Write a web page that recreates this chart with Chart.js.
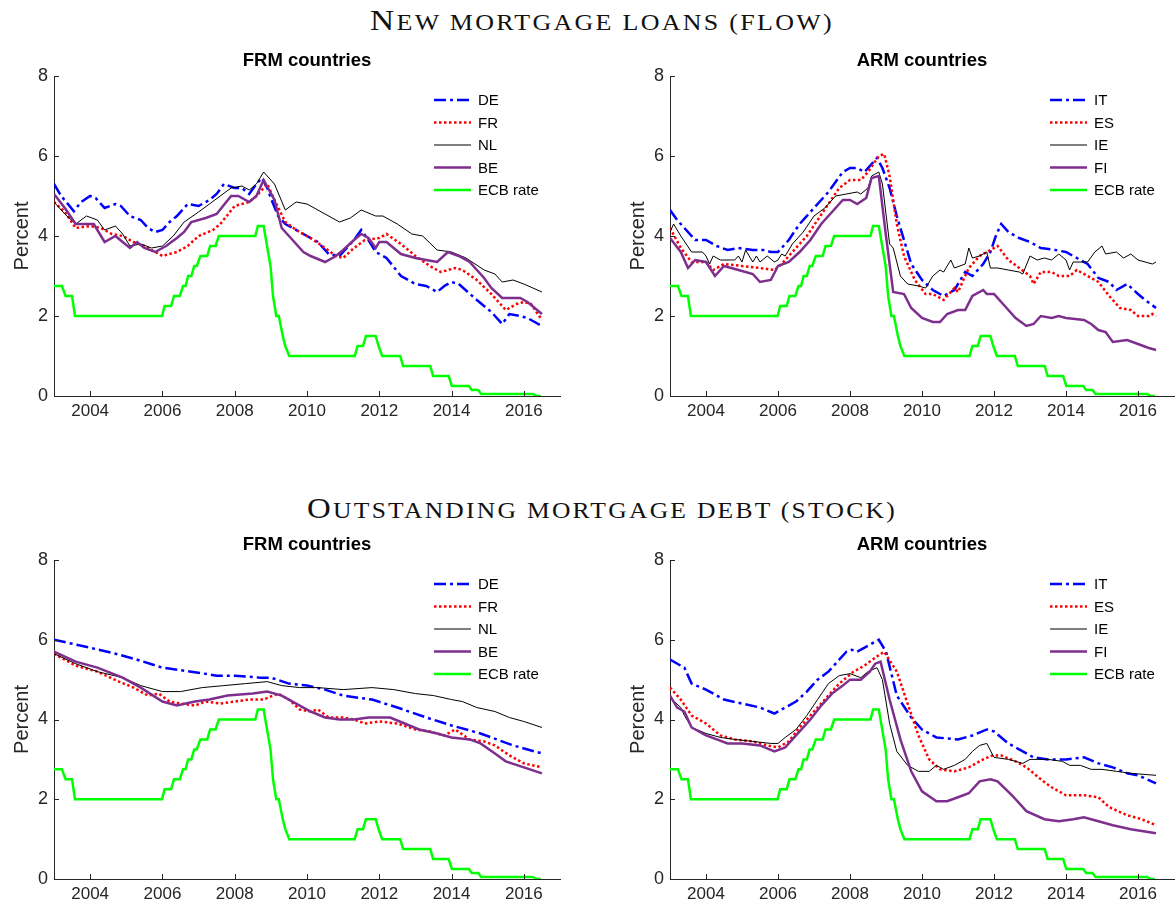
<!DOCTYPE html>
<html>
<head>
<meta charset="utf-8">
<script src="https://cdn.jsdelivr.net/npm/chart.js@4.4.1/dist/chart.umd.min.js"></script>
<style>
  body { margin: 0; background: #fff; width: 1176px; height: 913px; position: relative; overflow: hidden; }
  .sec { position: absolute; left: 602px; white-space: nowrap; font-family: "Liberation Serif", serif;
         font-size: 29px; line-height: 36px; color: #111; letter-spacing: 2px; transform-origin: 0 0; }
  .sec .sc { font-size: 22.5px; }
  canvas { position: absolute; }
</style>
</head>
<body>
<div class="sec" id="t1" style="top:2px">N<span class="sc">EW MORTGAGE LOANS (FLOW)</span></div>
<div class="sec" id="t2" style="top:490px">O<span class="sc">UTSTANDING MORTGAGE DEBT (STOCK)</span></div>
<canvas id="c1" width="575" height="385" style="left:0;top:45px"></canvas>
<canvas id="c2" width="588" height="385" style="left:588px;top:45px"></canvas>
<canvas id="c3" width="575" height="384" style="left:0;top:529px"></canvas>
<canvas id="c4" width="588" height="384" style="left:588px;top:529px"></canvas>
<script>
const tickYears = [2004, 2006, 2008, 2010, 2012, 2014, 2016];
const tickPercent = [0, 2, 4, 6, 8];
const frmNames = ['DE', 'FR', 'NL', 'BE', 'ECB rate'];
const armNames = ['IT', 'ES', 'IE', 'FI', 'ECB rate'];

// ECB main refinancing rate, [year, percent]
const ecbRate = [[2003.0,2.75],[2003.22,2.75],[2003.32,2.5],[2003.5,2.5],[2003.58,2.0],[2005.99,2.0],[2006.06,2.25],[2006.24,2.25],
  [2006.32,2.5],[2006.48,2.5],[2006.57,2.75],[2006.64,2.75],[2006.71,3.0],[2006.8,3.0],[2006.88,3.25],[2006.95,3.25],[2007.05,3.5],
  [2007.24,3.5],[2007.32,3.75],[2007.47,3.75],[2007.56,4.0],[2008.57,4.0],[2008.64,4.25],[2008.8,4.25],[2008.99,3.25],[2009.06,2.5],
  [2009.15,2.0],[2009.22,2.0],[2009.33,1.5],[2009.4,1.25],[2009.51,1.0],[2011.32,1.0],[2011.4,1.25],[2011.55,1.25],[2011.63,1.5],
  [2011.9,1.5],[2011.98,1.25],[2012.08,1.0],[2012.58,1.0],[2012.66,0.75],[2013.41,0.75],[2013.49,0.5],[2013.92,0.5],[2014.01,0.25],
  [2014.48,0.25],[2014.56,0.15],[2014.74,0.15],[2014.82,0.05],[2016.25,0.05],[2016.36,0.0],[2016.47,0.0]];

// New loans, FRM countries
const flowDE = [[2003.0,5.3],[2003.2,5.0],[2003.55,4.62],[2003.75,4.85],[2004.0,5.0],[2004.15,4.95],[2004.4,4.7],[2004.7,4.8],
  [2004.85,4.75],[2005.1,4.5],[2005.4,4.4],[2005.6,4.2],[2005.8,4.1],[2006.0,4.15],[2006.2,4.35],[2006.4,4.5],[2006.7,4.8],
  [2007.0,4.75],[2007.3,4.9],[2007.5,5.05],[2007.7,5.3],[2008.0,5.2],[2008.2,5.2],[2008.4,5.05],[2008.6,5.3],[2008.75,5.45],
  [2008.9,5.2],[2009.0,4.95],[2009.2,4.5],[2009.4,4.3],[2009.6,4.2],[2010.0,4.0],[2010.3,3.85],[2010.6,3.55],[2010.9,3.5],
  [2011.3,3.9],[2011.5,4.15],[2011.7,3.9],[2011.9,3.6],[2012.2,3.45],[2012.6,3.0],[2013.0,2.8],[2013.3,2.75],[2013.6,2.6],
  [2013.8,2.75],[2014.0,2.85],[2014.2,2.8],[2014.7,2.4],[2015.1,2.1],[2015.4,1.8],[2015.6,2.05],[2015.9,2.0],[2016.1,1.95],
  [2016.3,1.85],[2016.5,1.75]];
const flowFR = [[2003.0,4.85],[2003.3,4.6],[2003.6,4.2],[2004.0,4.25],[2004.3,4.2],[2004.6,4.05],[2004.9,4.0],[2005.2,3.85],
  [2005.5,3.75],[2005.8,3.6],[2006.0,3.5],[2006.4,3.6],[2006.7,3.75],[2007.0,4.0],[2007.4,4.15],[2007.6,4.3],[2008.0,4.75],
  [2008.4,4.85],[2008.6,5.0],[2008.9,5.3],[2009.1,4.9],[2009.4,4.35],[2009.7,4.15],[2010.1,3.95],[2010.5,3.7],[2010.8,3.5],
  [2011.0,3.45],[2011.3,3.7],[2011.6,3.9],[2012.0,3.95],[2012.2,4.05],[2012.6,3.8],[2013.0,3.5],[2013.4,3.25],[2013.7,3.1],
  [2014.1,3.2],[2014.3,3.15],[2014.7,2.9],[2015.1,2.55],[2015.5,2.15],[2015.8,2.3],[2016.0,2.35],[2016.2,2.3],[2016.5,1.9]];
const flowNL = [[2003.0,4.85],[2003.3,4.55],[2003.6,4.3],[2003.9,4.5],[2004.2,4.4],[2004.4,4.15],[2004.7,4.25],[2004.9,4.05],
  [2005.1,3.75],[2005.4,3.8],[2005.7,3.7],[2006.0,3.75],[2006.3,4.0],[2006.6,4.35],[2007.0,4.6],[2007.3,4.8],[2007.6,5.0],
  [2007.9,5.2],[2008.2,5.25],[2008.4,5.15],[2008.6,5.3],[2008.8,5.6],[2009.1,5.3],[2009.4,4.65],[2009.7,4.85],[2010.0,4.8],
  [2010.5,4.55],[2010.9,4.35],[2011.2,4.45],[2011.5,4.65],[2011.9,4.5],[2012.1,4.5],[2012.5,4.3],[2012.9,4.05],[2013.2,4.0],
  [2013.6,3.65],[2014.0,3.6],[2014.4,3.45],[2014.9,3.15],[2015.2,3.05],[2015.4,2.85],[2015.7,2.9],[2016.0,2.8],[2016.5,2.6]];
const flowBE = [[2003.0,5.05],[2003.3,4.7],[2003.6,4.3],[2003.9,4.3],[2004.1,4.3],[2004.4,3.85],[2004.7,4.0],[2004.9,3.85],
  [2005.1,3.7],[2005.3,3.85],[2005.5,3.7],[2005.8,3.6],[2006.1,3.75],[2006.4,3.95],[2006.6,4.1],[2006.8,4.35],[2007.2,4.45],
  [2007.5,4.55],[2007.9,5.0],[2008.1,5.0],[2008.4,4.85],[2008.6,5.0],[2008.8,5.4],[2009.1,4.9],[2009.3,4.2],[2009.6,3.9],
  [2009.9,3.6],[2010.1,3.5],[2010.5,3.35],[2010.8,3.5],[2011.0,3.65],[2011.3,3.9],[2011.5,4.05],[2011.7,3.95],[2011.9,3.7],
  [2012.0,3.85],[2012.2,3.85],[2012.6,3.55],[2013.0,3.45],[2013.3,3.4],[2013.6,3.35],[2013.9,3.6],[2014.2,3.5],[2014.5,3.35],
  [2014.9,2.95],[2015.1,2.7],[2015.4,2.45],[2015.7,2.45],[2015.9,2.45],[2016.1,2.35],[2016.5,2.05]];

// New loans, ARM countries
const flowIT = [[2003.0,4.65],[2003.2,4.4],[2003.4,4.2],[2003.7,3.9],[2004.0,3.9],[2004.3,3.75],[2004.6,3.65],[2004.9,3.7],
  [2005.3,3.65],[2005.6,3.65],[2005.8,3.6],[2006.0,3.6],[2006.3,3.9],[2006.6,4.3],[2006.9,4.6],[2007.2,4.9],[2007.4,5.1],
  [2007.6,5.35],[2007.8,5.6],[2008.0,5.7],[2008.2,5.7],[2008.4,5.6],[2008.6,5.8],[2008.75,5.95],[2008.9,5.7],[2009.1,5.2],
  [2009.3,4.5],[2009.5,3.9],[2009.7,3.3],[2010.0,2.9],[2010.3,2.65],[2010.6,2.5],[2010.9,2.65],[2011.2,3.1],[2011.4,3.0],
  [2011.7,3.3],[2011.9,3.6],[2012.05,4.0],[2012.2,4.3],[2012.4,4.1],[2012.7,3.95],[2013.0,3.85],[2013.3,3.7],[2013.7,3.65],
  [2014.0,3.6],[2014.3,3.45],[2014.6,3.3],[2014.9,2.95],[2015.2,2.85],[2015.4,2.65],[2015.7,2.8],[2016.0,2.55],[2016.2,2.4],
  [2016.5,2.2]];
const flowES = [[2003.0,4.2],[2003.3,3.7],[2003.6,3.35],[2004.0,3.35],[2004.2,3.15],[2004.5,3.3],[2005.0,3.25],[2005.5,3.2],
  [2005.9,3.15],[2006.1,3.3],[2006.4,3.6],[2006.8,4.0],[2007.1,4.4],[2007.4,4.8],[2007.7,5.2],[2008.0,5.4],[2008.3,5.4],
  [2008.5,5.6],[2008.8,6.0],[2008.95,6.05],[2009.1,5.5],[2009.3,4.3],[2009.5,3.5],[2009.8,2.9],[2010.1,2.55],[2010.3,2.55],
  [2010.6,2.4],[2010.9,2.7],[2011.0,2.6],[2011.3,3.2],[2011.6,3.5],[2011.8,3.6],[2012.1,3.75],[2012.4,3.4],[2012.7,3.2],
  [2013.0,3.0],[2013.1,2.8],[2013.3,3.1],[2013.6,3.1],[2013.8,3.0],[2014.1,3.0],[2014.3,3.15],[2014.6,3.0],[2014.9,2.85],
  [2015.2,2.5],[2015.5,2.2],[2015.8,2.15],[2016.0,2.0],[2016.3,2.0],[2016.4,2.05],[2016.5,2.0]];
const flowIE = [[2003.0,4.1],[2003.1,4.3],[2003.3,4.0],[2003.6,3.6],[2003.9,3.6],[2004.0,3.5],[2004.1,3.3],[2004.2,3.5],
  [2004.4,3.4],[2004.8,3.4],[2004.9,3.5],[2005.0,3.35],[2005.1,3.65],[2005.3,3.35],[2005.4,3.5],[2005.5,3.35],[2005.7,3.5],
  [2005.9,3.35],[2006.0,3.4],[2006.1,3.55],[2006.2,3.5],[2006.4,3.8],[2006.7,4.1],[2007.0,4.5],[2007.3,4.7],[2007.6,5.0],
  [2007.9,5.05],[2008.2,5.1],[2008.3,5.05],[2008.5,5.2],[2008.6,5.5],[2008.8,5.6],[2008.9,5.3],[2009.1,3.8],[2009.2,3.7],
  [2009.4,3.0],[2009.6,2.8],[2009.9,2.75],[2010.1,2.7],[2010.3,3.0],[2010.5,3.15],[2010.6,3.1],[2010.8,3.4],[2010.9,3.2],
  [2011.2,3.3],[2011.3,3.7],[2011.4,3.45],[2011.6,3.5],[2011.8,3.6],[2011.9,3.2],[2012.1,3.2],[2012.4,3.15],[2012.7,3.1],
  [2012.8,3.05],[2013.0,3.5],[2013.2,3.4],[2013.4,3.45],[2013.6,3.4],[2013.8,3.55],[2014.0,3.4],[2014.1,3.15],[2014.2,3.35],
  [2014.6,3.35],[2014.8,3.6],[2015.0,3.75],[2015.1,3.55],[2015.4,3.6],[2015.6,3.45],[2015.8,3.55],[2016.0,3.4],[2016.4,3.3],
  [2016.5,3.35]];
const flowFI = [[2003.0,3.95],[2003.3,3.6],[2003.5,3.2],[2003.7,3.4],[2004.0,3.35],[2004.25,3.0],[2004.5,3.25],[2004.9,3.15],
  [2005.3,3.05],[2005.5,2.85],[2005.8,2.9],[2006.0,3.25],[2006.3,3.35],[2006.6,3.6],[2006.9,3.9],[2007.2,4.3],[2007.5,4.6],
  [2007.8,4.9],[2008.0,4.9],[2008.2,4.8],[2008.45,4.95],[2008.6,5.45],[2008.8,5.5],[2009.0,4.0],[2009.2,2.6],[2009.5,2.55],
  [2009.7,2.2],[2010.0,1.95],[2010.3,1.85],[2010.5,1.85],[2010.7,2.05],[2011.0,2.15],[2011.2,2.15],[2011.4,2.5],[2011.7,2.65],
  [2011.8,2.55],[2012.0,2.55],[2012.3,2.25],[2012.6,1.95],[2012.9,1.75],[2013.1,1.8],[2013.3,2.0],[2013.6,1.95],[2013.8,2.0],
  [2014.0,1.95],[2014.5,1.9],[2014.7,1.8],[2014.9,1.65],[2015.1,1.6],[2015.3,1.35],[2015.7,1.4],[2016.0,1.3],[2016.3,1.2],
  [2016.5,1.15]];

// Outstanding debt, FRM countries
const stockDE = [[2003.0,6.0],[2004.0,5.8],[2004.7,5.65],[2005.3,5.5],[2006.0,5.3],[2006.8,5.2],[2007.5,5.1],[2008.0,5.1],
  [2008.7,5.05],[2009.0,5.05],[2009.5,4.9],[2010.0,4.85],[2010.5,4.75],[2011.0,4.6],[2011.8,4.5],[2012.5,4.3],[2013.3,4.05],
  [2014.0,3.85],[2014.8,3.65],[2015.7,3.35],[2016.5,3.15]];
const stockFR = [[2003.0,5.65],[2003.6,5.35],[2004.2,5.2],[2004.8,4.95],[2005.2,4.8],[2005.6,4.6],[2005.9,4.65],[2006.2,4.45],
  [2006.5,4.4],[2006.9,4.35],[2007.2,4.45],[2007.6,4.4],[2008.0,4.45],[2008.4,4.5],[2008.8,4.5],[2009.2,4.65],[2009.5,4.5],
  [2009.8,4.25],[2010.1,4.2],[2010.3,4.25],[2010.6,4.05],[2011.0,4.05],[2011.3,4.0],[2011.6,3.9],[2012.0,3.95],[2012.5,3.9],
  [2013.0,3.75],[2013.4,3.7],[2013.8,3.6],[2014.1,3.75],[2014.5,3.5],[2014.9,3.45],[2015.2,3.35],[2015.6,3.1],[2016.0,2.9],
  [2016.5,2.8]];
const stockNL = [[2003.0,5.65],[2003.6,5.4],[2004.2,5.2],[2004.9,5.05],[2005.4,4.85],[2006.0,4.7],[2006.5,4.7],[2007.1,4.8],
  [2007.7,4.85],[2008.3,4.9],[2008.9,4.95],[2009.3,4.85],[2009.8,4.8],[2010.3,4.8],[2011.0,4.75],[2011.8,4.8],[2012.4,4.75],
  [2013.0,4.65],[2013.5,4.6],[2014.0,4.5],[2014.3,4.45],[2014.7,4.3],[2015.2,4.2],[2015.6,4.05],[2016.0,3.95],[2016.5,3.8]];
const stockBE = [[2003.0,5.7],[2003.6,5.45],[2004.2,5.3],[2004.9,5.05],[2005.4,4.8],[2006.0,4.45],[2006.4,4.35],[2006.9,4.45],
  [2007.3,4.5],[2007.8,4.6],[2008.5,4.65],[2008.9,4.7],[2009.3,4.6],[2009.7,4.4],[2010.1,4.2],[2010.5,4.05],[2010.9,4.0],
  [2011.3,4.0],[2011.7,4.05],[2012.3,4.05],[2012.7,3.9],[2013.1,3.75],[2013.6,3.65],[2014.0,3.55],[2014.5,3.5],[2014.8,3.4],
  [2015.2,3.15],[2015.5,2.95],[2016.0,2.8],[2016.5,2.65]];

// Outstanding debt, ARM countries
const stockIT = [[2003.0,5.5],[2003.4,5.3],[2003.6,4.9],[2004.0,4.75],[2004.5,4.5],[2005.0,4.4],[2005.5,4.3],[2005.9,4.15],
  [2006.2,4.3],[2006.5,4.45],[2006.8,4.7],[2007.1,5.0],[2007.4,5.2],[2007.6,5.4],[2007.9,5.7],[2008.05,5.75],[2008.2,5.7],
  [2008.5,5.85],[2008.8,6.0],[2009.0,5.7],[2009.3,4.6],[2009.7,4.05],[2010.0,3.75],[2010.4,3.55],[2011.0,3.5],[2011.4,3.6],
  [2011.8,3.75],[2012.0,3.7],[2012.4,3.4],[2012.8,3.2],[2013.1,3.05],[2013.5,3.0],[2014.0,3.0],[2014.5,3.05],[2014.9,2.9],
  [2015.3,2.8],[2015.7,2.65],[2016.0,2.6],[2016.5,2.4]];
const stockES = [[2003.0,4.8],[2003.3,4.5],[2003.6,4.1],[2004.0,3.9],[2004.4,3.6],[2004.8,3.5],[2005.3,3.45],[2005.7,3.35],
  [2006.0,3.3],[2006.3,3.45],[2006.6,3.8],[2007.0,4.2],[2007.4,4.6],[2007.7,4.9],[2008.1,5.2],[2008.4,5.35],[2008.7,5.55],
  [2008.95,5.7],[2009.3,5.2],[2009.6,4.4],[2009.9,3.6],[2010.2,3.0],[2010.5,2.75],[2010.9,2.7],[2011.3,2.8],[2011.7,3.0],
  [2011.95,3.1],[2012.2,3.1],[2012.6,2.95],[2012.9,2.8],[2013.3,2.5],[2013.6,2.3],[2014.0,2.1],[2014.5,2.1],[2014.9,2.05],
  [2015.2,1.8],[2015.7,1.6],[2016.1,1.5],[2016.5,1.35]];
const stockIE = [[2003.0,4.55],[2003.3,4.3],[2003.4,4.1],[2003.6,3.8],[2004.0,3.65],[2004.4,3.55],[2004.8,3.5],[2005.3,3.45],
  [2005.8,3.4],[2006.0,3.4],[2006.2,3.55],[2006.5,3.75],[2006.8,4.1],[2007.1,4.5],[2007.4,4.9],[2007.7,5.1],[2008.0,5.15],
  [2008.3,5.05],[2008.5,5.2],[2008.75,5.3],[2008.9,5.0],[2009.1,3.9],[2009.3,3.2],[2009.6,2.85],[2009.9,2.7],[2010.2,2.7],
  [2010.4,2.85],[2010.6,2.75],[2010.9,2.85],[2011.2,3.0],[2011.4,3.2],[2011.6,3.35],[2011.8,3.4],[2012.0,3.05],[2012.4,3.0],
  [2012.8,2.9],[2013.0,3.0],[2013.5,3.0],[2013.9,2.95],[2014.1,2.85],[2014.4,2.85],[2014.7,2.75],[2015.0,2.75],[2015.4,2.7],
  [2015.8,2.65],[2016.5,2.6]];
const stockFI = [[2003.0,4.6],[2003.2,4.3],[2003.4,4.2],[2003.6,3.8],[2004.0,3.6],[2004.3,3.5],[2004.6,3.4],[2005.0,3.4],
  [2005.5,3.35],[2005.9,3.2],[2006.2,3.3],[2006.5,3.6],[2006.9,4.0],[2007.2,4.35],[2007.5,4.65],[2007.8,4.85],[2008.0,5.0],
  [2008.3,5.0],[2008.55,5.2],[2008.7,5.4],[2008.85,5.45],[2009.1,4.5],[2009.4,3.5],[2009.7,2.7],[2010.0,2.2],[2010.4,1.95],
  [2010.7,1.95],[2011.0,2.05],[2011.3,2.15],[2011.6,2.45],[2011.9,2.5],[2012.1,2.45],[2012.5,2.1],[2012.9,1.7],[2013.4,1.5],
  [2013.8,1.45],[2014.2,1.5],[2014.5,1.55],[2014.9,1.45],[2015.3,1.35],[2015.8,1.25],[2016.5,1.15]];

// stretch the two section headings to the width they have in the figure (CM small caps are wide)
[['t1', 464], ['t2', 590]].forEach(([id, w]) => {
  const el = document.getElementById(id);
  const k = w / el.getBoundingClientRect().width;
  el.style.transform = 'translateX(' + (-w / 2) + 'px) scaleX(' + k + ')';
});

const FONT = '"Liberation Sans", Arial, sans-serif';
Chart.defaults.font.family = FONT;
const axisColor = '#262626';

const lineStyles = [
  { borderColor: '#0000ff', borderWidth: 2.5, borderDash: [12, 4, 3, 4] },
  { borderColor: '#ff0000', borderWidth: 2.5, borderDash: [2.5, 2.5] },
  { borderColor: '#000000', borderWidth: 1, borderDash: [] },
  { borderColor: '#7e2f8e', borderWidth: 2.5, borderDash: [] },
  { borderColor: '#00ff00', borderWidth: 2.5, borderDash: [] }
];

// title over the plot, inward ticks and a legend inside the plot, like the original figure
const matlabLook = {
  id: 'matlabLook',
  afterDraw(chart, args, opts) {
    const { ctx, chartArea: a, scales } = chart;
    ctx.save();
    ctx.fillStyle = '#000';
    ctx.font = 'bold 18.5px ' + FONT;
    ctx.textAlign = 'center';
    ctx.textBaseline = 'middle';
    ctx.fillText(opts.title, (a.left + a.right) / 2, a.top - 15);

    ctx.strokeStyle = axisColor;
    ctx.lineWidth = 1;
    ctx.beginPath();
    tickYears.forEach(v => {
      const x = Math.round(scales.x.getPixelForValue(v)) + 0.5;
      ctx.moveTo(x, a.bottom); ctx.lineTo(x, a.bottom - 5);
    });
    tickPercent.forEach(v => {
      const y = Math.round(scales.y.getPixelForValue(v)) + 0.5;
      ctx.moveTo(a.left, y); ctx.lineTo(a.left + 5, y);
    });
    ctx.stroke();

    const x0 = a.left + 380;
    ctx.font = '15px ' + FONT;
    ctx.textAlign = 'left';
    chart.data.datasets.forEach((ds, i) => {
      const y = a.top + 24 + i * 22.5;
      ctx.beginPath();
      ctx.strokeStyle = ds.borderColor;
      ctx.lineWidth = ds.borderWidth;
      ctx.setLineDash(ds.borderDash);
      ctx.moveTo(x0, y); ctx.lineTo(x0 + 37, y);
      ctx.stroke();
      ctx.setLineDash([]);
      ctx.fillText(ds.label, x0 + 44, y + 1);
    });
    ctx.restore();
  }
};

function makePanel(id, title, names, series, padLeft, padRight) {
  new Chart(document.getElementById(id), {
    type: 'line',
    data: {
      datasets: series.map((d, i) => Object.assign({
        label: names[i], data: d, pointRadius: 0, fill: false, tension: 0, order: series.length - 1 - i
      }, lineStyles[i]))
    },
    options: {
      responsive: false,
      animation: false,
      devicePixelRatio: 1,
      layout: { padding: { left: padLeft, right: padRight, top: 31, bottom: 0 } },
      plugins: {
        legend: { display: false },
        tooltip: { enabled: false },
        title: { display: false },
        matlabLook: { title: title }
      },
      scales: {
        x: {
          type: 'linear', min: 2003, max: 2017,
          afterBuildTicks: s => { s.ticks = tickYears.map(v => ({ value: v })); },
          afterFit: s => { s.height = 34; },
          grid: { display: false, drawTicks: false },
          border: { display: true, color: axisColor, width: 1 },
          ticks: { color: axisColor, font: { size: 17 }, padding: 5, maxRotation: 0, autoSkip: false,
                   callback: v => String(v) }
        },
        y: {
          min: 0, max: 8,
          afterBuildTicks: s => { s.ticks = tickPercent.map(v => ({ value: v })); },
          afterFit: s => { s.width = 50; },
          grid: { display: false, drawTicks: false },
          border: { display: true, color: axisColor, width: 1 },
          ticks: { color: axisColor, font: { size: 18 }, padding: 6 },
          title: { display: true, text: 'Percent', color: axisColor, font: { size: 20 }, padding: { top: 6, bottom: 0 } }
        }
      }
    },
    plugins: [matlabLook]
  });
}

makePanel('c1', 'FRM countries', frmNames, [flowDE, flowFR, flowNL, flowBE, ecbRate], 4, 15);
makePanel('c2', 'ARM countries', armNames, [flowIT, flowES, flowIE, flowFI, ecbRate], 32, 2);
makePanel('c3', 'FRM countries', frmNames, [stockDE, stockFR, stockNL, stockBE, ecbRate], 4, 15);
makePanel('c4', 'ARM countries', armNames, [stockIT, stockES, stockIE, stockFI, ecbRate], 32, 2);
</script>
</body>
</html>
